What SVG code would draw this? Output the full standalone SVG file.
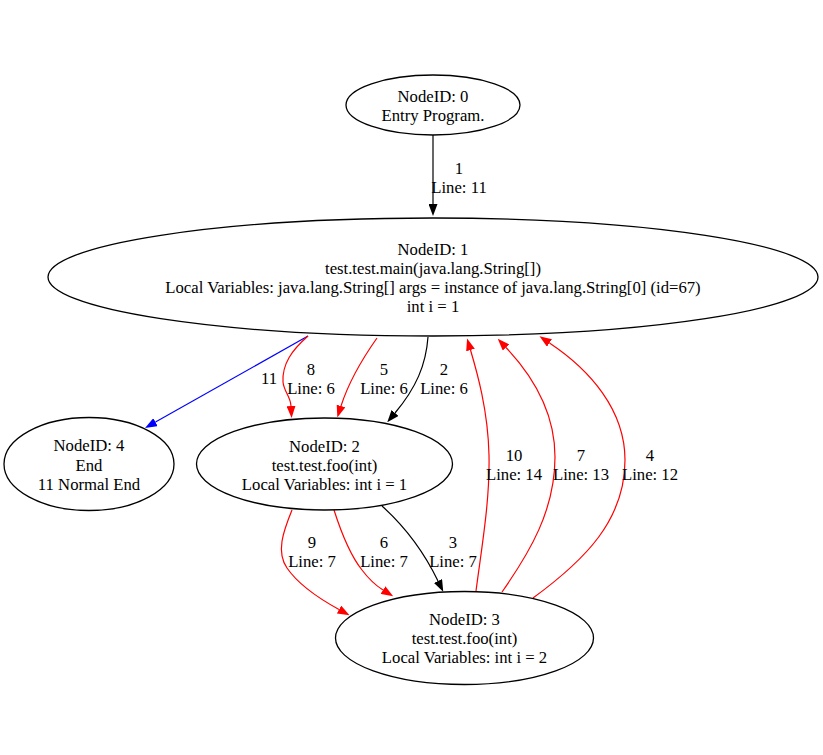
<svg xmlns="http://www.w3.org/2000/svg" width="823" height="755" viewBox="0 0 823 755">
<style>
text{font-family:"Liberation Serif","Times New Roman",serif;font-size:16.7px;fill:#000;text-anchor:middle}
.n{fill:none;stroke:#000;stroke-width:1.3}
.e{fill:none;stroke-width:1.2}
.k{stroke:#000}.r{stroke:#f00}.b{stroke:#00f}
</style>
<defs>
<marker id="ak" viewBox="0 0 12 9" refX="0" refY="4.5" markerWidth="12" markerHeight="9" orient="auto" markerUnits="userSpaceOnUse"><path d="M0,0 L12,4.5 L0,9 z" fill="#000"/></marker>
<marker id="ar" viewBox="0 0 12 9" refX="0" refY="4.5" markerWidth="12" markerHeight="9" orient="auto" markerUnits="userSpaceOnUse"><path d="M0,0 L12,4.5 L0,9 z" fill="#f00"/></marker>
<marker id="ab" viewBox="0 0 12 9" refX="0" refY="4.5" markerWidth="12" markerHeight="9" orient="auto" markerUnits="userSpaceOnUse"><path d="M0,0 L12,4.5 L0,9 z" fill="#00f"/></marker>
</defs>
<rect width="823" height="755" fill="#fff"/>
<g id="connectors">
<g id="e0-1"><path class="e k" marker-end="url(#ak)" d="M433,135 L433,204"/><text x="459" y="174">1</text><text x="459" y="193">Line: 11</text></g>
<g id="e1-4"><path class="e b" marker-end="url(#ab)" d="M308,336 L155.5,422.1"/><text x="269" y="384">11</text></g>
<g id="e1-2a"><path class="e r" marker-end="url(#ar)" d="M308,336 C292,350 282,364 283,382 C284,392 290.5,396 291,406"/><text x="311" y="375">8</text><text x="311" y="394">Line: 6</text></g>
<g id="e1-2b"><path class="e r" marker-end="url(#ar)" d="M377,338 C365,355 350,378 341,406"/><text x="384" y="375">5</text><text x="384" y="394">Line: 6</text></g>
<g id="e1-2c"><path class="e k" marker-end="url(#ak)" d="M428,337 C426,365 416,388 395,413"/><text x="444" y="375">2</text><text x="444" y="394">Line: 6</text></g>
<g id="e3-1a"><path class="e r" marker-end="url(#ar)" d="M476,591 C482,545 490,500 489,455 C488,410 477,372 470.5,350"/><text x="514" y="461">10</text><text x="514" y="480">Line: 14</text></g>
<g id="e3-1b"><path class="e r" marker-end="url(#ar)" d="M502,592 C530,552 555,510 555,457 C555,410 530,373 506,347.5"/><text x="581" y="461">7</text><text x="581" y="480">Line: 13</text></g>
<g id="e3-1c"><path class="e r" marker-end="url(#ar)" d="M533,598 C585,560 625,520 625,460 C625,410 590,370 549.5,343"/><text x="650" y="461">4</text><text x="650" y="480">Line: 12</text></g>
<g id="e2-3a"><path class="e r" marker-end="url(#ar)" d="M292,510 C283,532 276,552 287,568 C298,584 318,598 339,609.5"/><text x="312" y="548">9</text><text x="312" y="567">Line: 7</text></g>
<g id="e2-3b"><path class="e r" marker-end="url(#ar)" d="M334,510 C342,535 350,555 362,570 C368,578 375,585 383,590"/><text x="384" y="548">6</text><text x="384" y="567">Line: 7</text></g>
<g id="e2-3c"><path class="e k" marker-end="url(#ak)" d="M382,506 C402,524 422,548 438,581"/><text x="453" y="548">3</text><text x="453" y="567">Line: 7</text></g>
</g>
<g id="node0"><ellipse class="n" cx="433" cy="105" rx="87" ry="30"/><text x="433" y="102">NodeID: 0</text><text x="433" y="121">Entry Program.</text></g>
<g id="node1"><ellipse class="n" cx="433" cy="277" rx="385" ry="59"/><text x="433" y="255">NodeID: 1</text><text x="433" y="274">test.test.main(java.lang.String[])</text><text x="433" y="293">Local Variables: java.lang.String[] args = instance of java.lang.String[0] (id=67)</text><text x="433" y="312">int i = 1</text></g>
<g id="node4"><ellipse class="n" cx="89" cy="464" rx="85" ry="46.5"/><text x="89" y="451">NodeID: 4</text><text x="89" y="471">End</text><text x="89" y="490">11 Normal End</text></g>
<g id="node2"><ellipse class="n" cx="324.5" cy="464" rx="128" ry="46"/><text x="324.5" y="452">NodeID: 2</text><text x="324.5" y="471">test.test.foo(int)</text><text x="324.5" y="490">Local Variables: int i = 1</text></g>
<g id="node3"><ellipse class="n" cx="464.5" cy="638" rx="129" ry="46.5"/><text x="464.5" y="625">NodeID: 3</text><text x="464.5" y="644">test.test.foo(int)</text><text x="464.5" y="663">Local Variables: int i = 2</text></g>
</svg>
